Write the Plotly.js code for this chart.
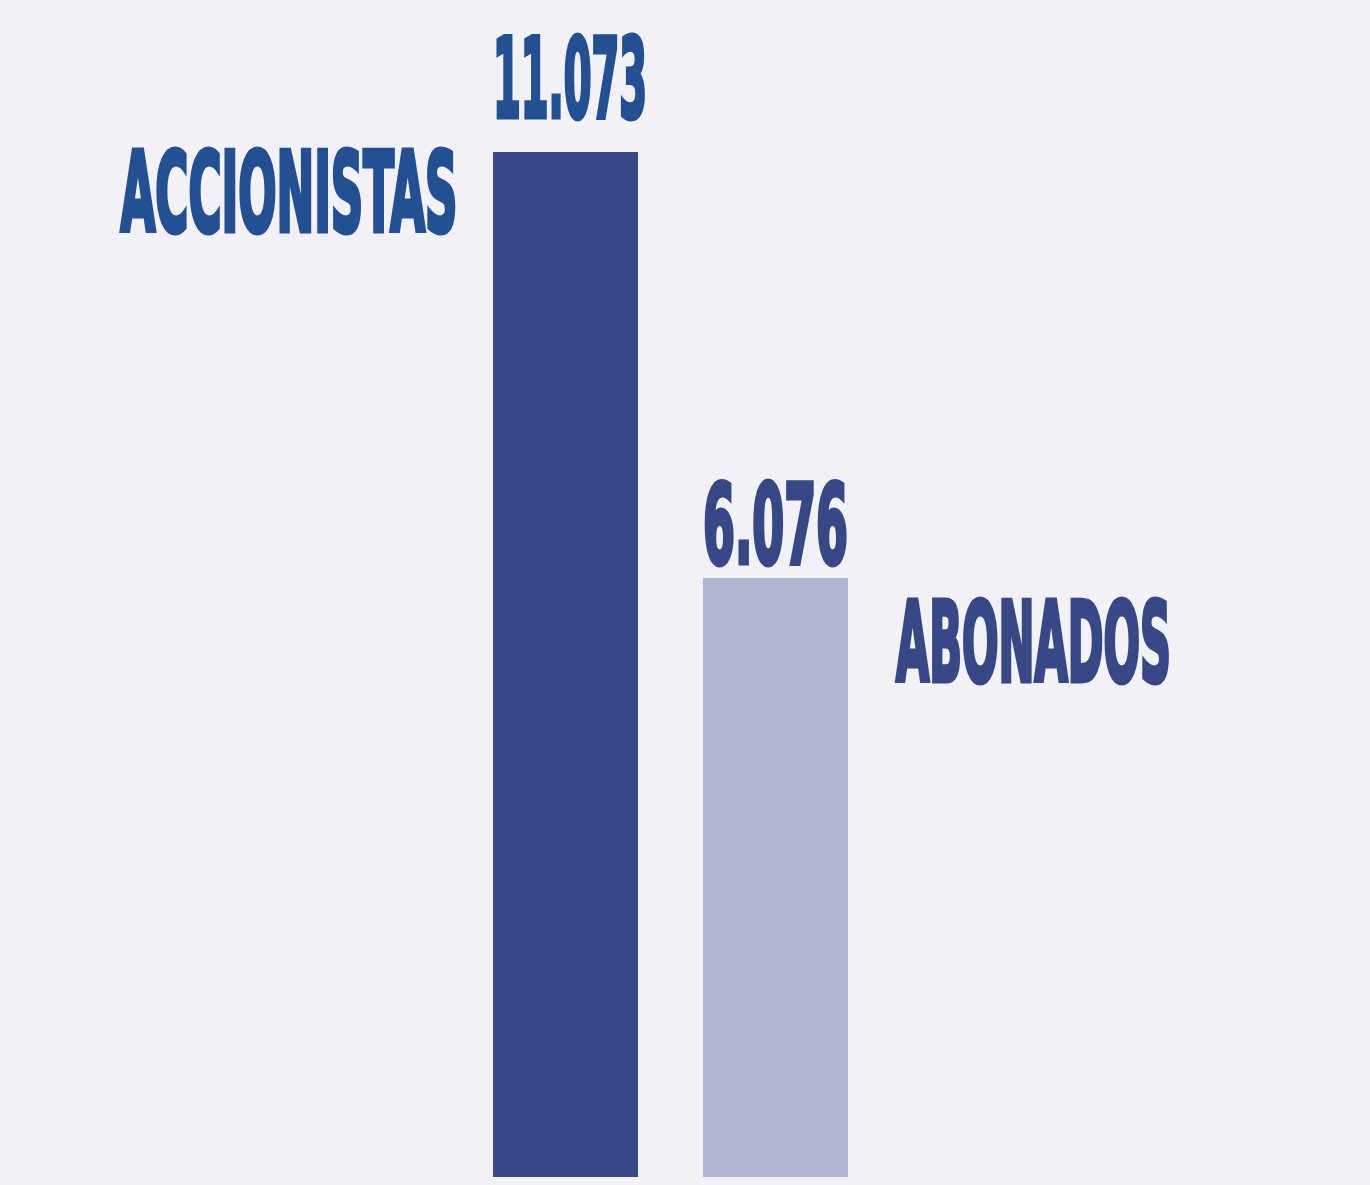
<!DOCTYPE html>
<html><head><meta charset="utf-8">
<script src="https://cdn.plot.ly/plotly-3.0.1.min.js"></script>
<style>html,body{margin:0;padding:0;background:#f2f1f7;} #chart{width:1370px;height:1185px;}</style>
</head><body><div id="chart"></div>
<script>
// ---- data ----
const categories = ["ACCIONISTAS", "ABONADOS"];
const values = [11073, 6076];
const valueLabels = ["11.073", "6.076"];

// ---- styles ----
const barColors = ["#374884", "#b0b5d0"];
const labelColors = ["#244f91", "#374884"];
const FONT = "'Liberation Sans Narrow', 'DejaVu Sans Condensed', 'Liberation Sans', sans-serif";
const FSIZE = 110;
const Y_MIN = -950, Y_MAX = 12856;
const STROKE = 5;

const trace = {
  type: 'bar', x: categories, base: Y_MIN,
  y: values.map(v => v - Y_MIN),   // bar lengths from base so the tops sit at the values
  marker: {color: barColors, line: {width: 0}},
  width: 0.6905, hoverinfo: 'none', textposition: 'none'
};

const valueShiftX = [4.5, 0];
const valueShiftY = [7, -13];
const annotations = [];
categories.forEach((c, i) => {
  annotations.push({
    x: c, y: values[i], xref: 'x', yref: 'y', text: valueLabels[i], showarrow: false,
    xanchor: 'center', yanchor: 'bottom', xshift: valueShiftX[i], yshift: valueShiftY[i],
    font: {family: FONT, size: FSIZE, color: labelColors[i], weight: 'bold'}
  });
});
annotations.push({
  x: categories[0], y: values[0], xref: 'x', yref: 'y', text: categories[0], showarrow: false,
  xanchor: 'right', yanchor: 'top', xshift: -106.5, yshift: 25,
  font: {family: FONT, size: FSIZE, color: labelColors[0], weight: 'bold'}
});
annotations.push({
  x: categories[1], y: values[1], xref: 'x', yref: 'y', text: categories[1], showarrow: false,
  xanchor: 'left', yanchor: 'top', xshift: 118.5, yshift: 1,
  font: {family: FONT, size: FSIZE, color: labelColors[1], weight: 'bold'}
});

const layout = {
  width: 1370, height: 1185,
  margin: {l: 0, r: 0, t: 0, b: 8, pad: 0},
  paper_bgcolor: '#f2f1f7', plot_bgcolor: '#f2f1f7',
  showlegend: false, bargap: 0,
  xaxis: {type: 'category', range: [-2.693, 3.831], visible: false, fixedrange: true},
  yaxis: {range: [Y_MIN, Y_MAX], visible: false, fixedrange: true, zeroline: false, showgrid: false},
  annotations: annotations
};

const anchors = ['center', 'center', 'right', 'left'];
const targetWidths = [154, 145, 337, 275];
const annColors = [labelColors[0], labelColors[1], labelColors[0], labelColors[1]];
Plotly.newPlot('chart', [trace], layout, {staticPlot: true, displayModeBar: false}).then(gd => {
  const texts = gd.querySelectorAll('.annotation-text');
  texts.forEach((t, i) => {
    const b = t.getBBox();
    const f = targetWidths[i] / b.width;
    const ax = anchors[i] === 'right' ? b.x + b.width : anchors[i] === 'left' ? b.x : b.x + b.width / 2;
    const prev = t.getAttribute('transform') || '';
    t.setAttribute('transform', prev + ` translate(${ax},0) scale(${f},1) translate(${-ax},0)`);
    t.style.stroke = annColors[i];
    t.style.strokeWidth = STROKE + 'px';
    t.style.paintOrder = 'stroke';
    t.style.strokeLinejoin = 'miter';
  });
});
</script>
</body></html>
